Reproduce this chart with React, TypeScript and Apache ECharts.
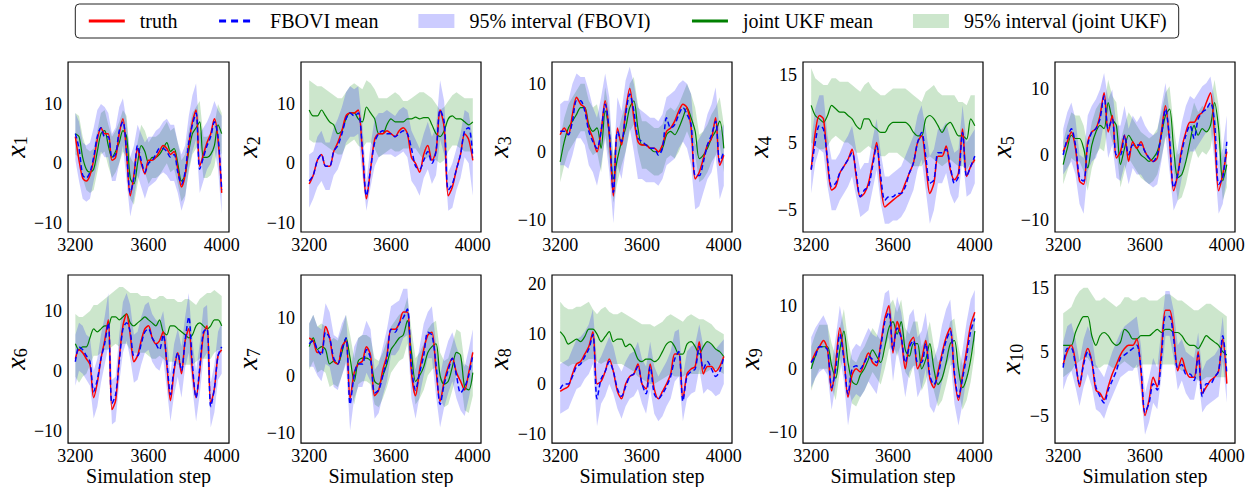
import React, { useEffect, useRef } from "react";
import * as echarts from "echarts";

const STEP: number[] = Array.from({ length: 41 }, (_, i) => 3200 + 20 * i);

// ---------- x1 ----------
const T1 = [4.5, 0.5, -2.5, -3, -2, 0.5, 4, 6, 5, 5, 0.5, 1, 5, 7.5, 1.5, -5.5, -2, 2.5, 0, -1.8, 0.5, 0.5, 1, 2, 3, 2.5, 1.5, 2, -1, -4, -2, 3, 7, 9, -0.5, 1.5, 3.5, 5, 7.5, 4, -5];
const F1 = [5, 2.5, -2, -2.5, -1.5, 1, 4.5, 6, 4.5, 4.5, 1, 1.5, 5.5, 7, 2, -5, -2.5, 3, 0.5, -1.5, 0, 0.5, 1.5, 2.5, 2.5, 2, 1, 1.5, -1.5, -3.5, -1.5, 3.5, 6.5, 8.5, -1, 1, 3, 4.5, 7, 4.5, -4.5];
const F1_LO = [0.5, -3, -6, -6.5, -6, -3, 0, 2, 1, 1, -3, -3, 0, 3, -3, -9, -6, -2, -4, -6, -4, -3.5, -3, -2, -1.5, -2, -3, -3, -5, -8, -6, -1, 2, 4, -5, -3, -1, 0, 2.5, -1, -8.5];
const F1_HI = [8.5, 7, 3.5, 3, 3.5, 6, 9, 10, 9.5, 8.5, 5, 6, 9.5, 11, 7, 1, 3, 6.5, 5, 3.5, 4.5, 4.5, 5.5, 6, 7, 7.5, 6.5, 6.5, 3.5, 1.5, 3, 8, 11.5, 13.5, 5, 6, 7, 8.5, 10.5, 9, 8];
const U1 = [5, 4.5, 1, -1, -1.5, -1, 2, 5, 5.5, 3, 1, 2, 3.5, 5.5, 4.5, -2.5, -3.5, 0, 3, 2, 0, 1, 1, 1.5, 2.5, 3.5, 2, 2.5, 0, -3, -2, 2, 5, 6, 7, 1, 1, 1.5, 3, 6.5, 5];
const U1_LO = [1.5, 1, -2.5, -4.5, -5, -4.5, -1.5, 1.5, 2, -0.5, -2.5, -1.5, 0, 2, 1, -6, -7, -3.5, -0.5, -1.5, -3.5, -2.5, -2.5, -2, -1, 0, -1.5, -1, -3.5, -6.5, -5.5, -1.5, 1.5, 2.5, 3.5, -2.5, -2.5, -2, -0.5, 3, 1.5];
const U1_HI = [8.5, 8, 4.5, 2.5, 2, 2.5, 5.5, 8.5, 9, 6.5, 4.5, 5.5, 7, 9, 8, 1, 0, 3.5, 6.5, 5.5, 3.5, 4.5, 4.5, 5, 6, 7, 5.5, 6, 3.5, 0.5, 1.5, 5.5, 8.5, 9.5, 10.5, 4.5, 4.5, 5, 6.5, 10, 8.5];

// ---------- x2 ----------
const T2 = [-3.5, -2, 0.5, 1.5, -0.5, -0.5, 2, 3.5, 5.5, 8, 8.5, 8.5, 9, 2, -6, -1, 4, 5, 5, 5.5, 5, 4.5, 5.5, 6, 5, 1, 0, -1.5, 1.5, 3, 0.5, 2, 9, 6, -5.5, -4, -1, 1.5, 5, 4, 0.5];
const F2 = [-3, -2, 0.5, 1.5, -0.5, -0.5, 2, 3, 5, 7.5, 8.5, 8, 8.5, 2.5, -5.5, -1, 3.5, 5, 5.5, 5, 5, 4.5, 5, 5.5, 5, 2.5, -0.5, -1, 0.5, 2, 0, 2, 9, 7, -4.5, -3.5, -1, 1.5, 5.5, 6, 1];
const F2_LO = [-7.5, -6, -4, -3, -4.5, -4.5, -2, -1, 1, 3.5, 4.5, 4.5, 5, -2, -8, -4, -0.5, 1, 1.5, 1.5, 1.5, 1, 1.5, 2, 1, -3, -4, -5.5, -2.5, -1, -3.5, -2, 4, 1.5, -8, -7.5, -4.5, -2.5, 1, 0, -5.5];
const F2_HI = [1.5, 2, 4.5, 5.5, 3.5, 3.5, 6, 7.5, 9.5, 12, 13, 12.5, 13, 6.5, -3, 3, 7.5, 8.5, 8.5, 9, 8.5, 8, 9, 9.5, 9, 5.5, 4, 2.5, 5, 7, 4.5, 6, 14, 10.5, -1.5, 0, 2.5, 5, 9, 8.5, 4];
const U2 = [9, 8, 8, 9, 8, 7, 6.5, 5, 5.5, 7.5, 8.5, 8.5, 7.5, 7, 9.5, 8.5, 7.5, 5, 5, 6.5, 7.5, 7, 7, 7, 7.5, 7.5, 7.8, 7.5, 7.7, 7.7, 6.5, 5, 4.5, 5.5, 7.5, 8, 7.5, 7.5, 7, 6.5, 7];
const U2_LO = [4, 3.5, 3.5, 3.5, 3, 2.5, 2, 1.5, 1.5, 3, 3.5, 4, 3, 2.5, 3.5, 3.5, 2.5, 1, 1.5, 2, 2.5, 2, 2, 2.5, 2.5, 2.5, 2.5, 1.5, 0.5, 1, 1, 0.5, 0, 0.5, 2, 3, 3, 2.5, 2, 2, 2];
const U2_HI = [14, 13.5, 13, 13, 12.5, 12, 11.5, 11, 11, 12, 13, 13.5, 13, 12.5, 14, 13.5, 12.5, 11, 11, 11, 11.5, 12, 11.5, 10.5, 10.5, 11, 11.5, 12, 12, 11.5, 11, 10, 9, 9.5, 10.5, 11.5, 12, 11.5, 11, 11, 11];

// ---------- x3 ----------
const T3 = [2.5, 3.5, 2.5, 5.5, 8, 7, 6.5, 3.5, 2, 0, 3, 7.5, 2.5, -6.5, 3.5, 1, 6, 9.3, 5, 1.5, 1, 1, 0.5, 0.5, 0, 1, 3, 3.5, 4.5, 6, 7, 6.5, 3.5, -4, -3, -1, 1, 2, 5, -2, -0.5];
const F3 = [3, 3, 2.5, 4.5, 7.5, 7.5, 6, 3, 1.5, 0.5, 3, 7, 3, -6, 3, 1.5, 5.5, 8.5, 6, 2, 1.5, 1, 0.5, 0.5, -0.5, 0.5, 5, 3.5, 4, 5.5, 6.5, 5.5, 4, -3.5, -3.5, -1.5, 1, 2.5, 4.5, -1.5, 0];
const F3_LO = [-2, -2, -2.5, -0.5, 2, 2, 1, -2, -3, -5, -2, 2, -3, -10.5, -2, -4, 0, 3.5, 0, -4, -4, -4.5, -4.5, -4.5, -5, -4, -2, -1.5, -1, 0.5, 1.5, 0.5, -2, -8.5, -8, -6, -4, -3, -0.5, -7, -5];
const F3_HI = [7, 7.5, 7.5, 10, 11.5, 11, 11, 9, 6.5, 5, 8, 11.5, 8, -2, 8, 6, 10.5, 12.5, 10, 6.5, 6, 5.5, 5, 5, 4.5, 5.5, 8, 8.5, 9, 10, 10.5, 10, 8.5, 1, 2, 3, 5.5, 7, 9.5, 3, 4];
const U3 = [-1.5, 1.5, 3.5, 4.5, 5.5, 6.5, 6.5, 4, 3, 3.5, 0.5, 6, 2.5, -4, -1, 1.5, 3.5, 6.5, 7.5, 3.5, 1, 1, 0.5, 0, 0, 0.5, 2.5, 3, 2.5, 3.5, 5, 6.5, 5, 3, -1, -0.5, 0.5, 2, 3, 4.5, 0.5];
const U3_LO = [-4.5, -2, 0, 1, 2, 3, 3, 0.5, -0.5, 0, -3, 2.5, -1, -7.5, -4.5, -2, 0, 3, 4, 0, -2.5, -2.5, -3, -3.5, -3.5, -3, -1, -0.5, -1, 0, 1.5, 3, 1.5, -0.5, -4.5, -4, -3, -1.5, -0.5, 1, -3];
const U3_HI = [2, 5, 7, 8, 9, 10, 10, 7.5, 6.5, 7, 4, 9.5, 6, -0.5, 2.5, 5, 7, 10, 11, 7, 4.5, 4.5, 4, 3.5, 3.5, 4, 6, 6.5, 6, 7, 8.5, 10, 8.5, 6.5, 2.5, 3, 4, 5.5, 6.5, 8, 4];

// ---------- x4 ----------
const T4 = [1, 6.5, 9, 8.5, 2, -2, -1.5, 0.5, 1.5, 2.5, 4, 0, -3, -2.5, -1, 2, 5, -1, -4.5, -4, -3.5, -3, -2.5, -1, 0.5, 2, 5, 6, 2, -2.5, -1, 3, 3, 4.5, 1, -0.5, 0.5, 7, 0, 1.5, 2.5];
const F4 = [1, 5, 7.5, 7, 2.5, -1.5, -1, 0.5, 1.5, 2.5, 3.5, 0.5, -3, -2, -1.5, 1.5, 4.5, 0, -3.5, -3, -3, -2.5, -2.5, -1.5, 0.5, 2, 5, 6.5, 3, -1, -0.5, 3.5, 3.5, 4, 1.5, -1, 0, 6.5, 0, 1.5, 3];
const F4_LO = [-2.5, 2, 4, 3.5, -1.5, -5, -5, -3.5, -2.5, -1.5, 0, -3, -6, -5.5, -5, -2, 1, -4, -7, -7, -6.5, -6.5, -6, -5, -3.5, -2, 1, 2.5, -2, -7, -5, -1, -1, 0.5, -2.5, -4, -3, 3, -3, -2.5, -1];
const F4_HI = [5, 10, 12, 12, 6, 2.5, 2.5, 3.5, 5, 6, 7.5, 4, 1, 2, 2, 5.5, 8.5, 3.5, 0, 0, 0.5, 1, 1.5, 3, 4.5, 6, 9, 10.5, 7, 3, 4, 7, 7, 8, 5.5, 3.5, 4, 10.5, 5, 6, 7];
const U4 = [10.5, 9, 8.5, 8, 9, 10.5, 10, 9.5, 9.5, 9, 8.5, 7.5, 7, 8.5, 8.5, 7.5, 7, 6.5, 6.5, 7.5, 8, 8, 8, 8, 7.5, 6.5, 6, 6, 8.5, 9, 8.5, 7.5, 6.5, 7.5, 8, 7, 6, 6, 5.5, 8.5, 7.5];
const U4_LO = [5, 4.5, 4, 4, 4.5, 5.5, 6, 5.5, 5, 5, 4.5, 3.5, 3.5, 4, 4.5, 4, 3.5, 3, 3, 3.5, 3.5, 3.5, 3, 2.5, 2, 1.5, 1.5, 1.5, 2.5, 3, 2.5, 2, 1.5, 2, 2.5, 2, 1.5, 1.5, 1, 2, 2];
const U4_HI = [16, 14.5, 14, 13.5, 13.5, 14.5, 14.5, 14, 14, 14, 13.5, 13, 12.5, 13.5, 14, 13, 12.5, 12, 12, 12.5, 13, 13, 13, 13, 12.5, 12, 11.5, 11, 12.5, 13, 13.5, 12.5, 12, 12, 12, 12, 11, 11, 10.5, 12, 12];

// ---------- x5 ----------
const T5 = [0.5, 2, 3.5, 1, -4, -4.5, 2, 3.5, 4, 6, 9.5, 3.5, 6, -0.5, 0.5, 3, -1, 2, 1, 2, 0.5, -0.5, -1, -0.5, 3.5, 7.5, 2, -5.5, -3, 1, 3.5, 5, 5, 6, 6.5, 8, 9.5, 3, -5.5, -3, 0.5];
const F5 = [0, 2.5, 4, 1.5, -3.5, -4, 1.5, 3.5, 4, 5.5, 9, 4, 5.5, 0, 0, 3, 0, 1.5, 1.5, 1.5, 0.5, -0.5, -1, 0, 3, 7, 2.5, -5, -3, 0.5, 3, 4.5, 2.5, 5.5, 6.5, 7, 8, 5, -4.5, -3.5, 2];
const F5_LO = [-3, -2, -1, -3, -7.5, -9, -2.5, -1, -0.5, 1.5, 5, -0.5, 1.5, -3.5, -4, -1.5, -4.5, -2, -3, -3, -4, -4.5, -5, -4.5, -1, 3, -2.5, -8.5, -7, -3.5, -1, 0.5, 0.5, 1.5, 2.5, 3.5, 4.5, -1, -9, -7.5, -3.5];
const F5_HI = [4, 6.5, 8, 5.5, 0, -0.5, 6, 7.5, 8.5, 10, 12.5, 8.5, 10, 4.5, 4.5, 7.5, 4, 6, 5, 6, 4.5, 3.5, 3, 3.5, 7.5, 11, 6.5, -1.5, 1, 5, 7.5, 9, 8.5, 9.5, 10.5, 11, 12, 8.5, -1, 1, 6];
const U5 = [-1.5, 1, 3, 2.5, 2.5, 1, -2, 1.5, 3.5, 4.5, 4, 8, 5.5, 4.5, -1.5, 1, 3, 2, 1, 0, -0.5, -1, -0.5, 0.5, 3, 6, 7, 1, -3.5, -3, -1, 2, 4.5, 3, 4, 3.5, 4.5, 8, 4, -4, -1.5];
const U5_LO = [-4.5, -2.5, -0.5, -1, -1, -2.5, -5.5, -2, 0, 1, 0.5, 4.5, 2, 1, -5, -2.5, -0.5, -1.5, -2.5, -3.5, -4, -4.5, -4, -3, -0.5, 2.5, 3.5, -2.5, -7, -6.5, -4.5, -1.5, 1, -0.5, 0.5, 0, 1, 4.5, 0.5, -7, -5];
const U5_HI = [2, 4.5, 6.5, 6, 6, 4.5, 1.5, 5, 7, 8, 7.5, 11.5, 9, 8, 2, 4.5, 6.5, 5.5, 4.5, 3.5, 3, 2.5, 3, 4, 6.5, 9.5, 10.5, 4.5, 0, 0.5, 2.5, 5.5, 8, 6.5, 7.5, 7, 8, 11.5, 7.5, -0.5, 2];

// ---------- x6 ----------
const T6 = [2, 3.5, 3, 2, 1, -4.5, -2, 2, 5, 8.5, -6.5, -5, 2, 7.5, 9.5, 6, 1.5, 2.5, 5, 7, 7.5, 5.5, 4.5, 5, 6.5, 1, -5, 0, 3, -0.5, 5, 7, 0, -4.5, 0, 6, 7.5, -5.5, -3, 2.5, 3.5];
const F6 = [1.5, 4, 3.5, 2.5, 1.5, -3.5, -1.5, 2, 4.5, 8, -5.5, -4, 1.5, 7, 8, 6.5, 2.5, 2.5, 4.5, 6.5, 7, 5.5, 4.5, 3.5, 6, 1.5, -4, 0.5, 3, 0, 5, 9, 1, -4.5, 0.5, 6.5, 7, -6, -3, 2.5, 4];
const F6_LO = [-2.5, 0, -0.5, -1.5, -2.5, -8, -6, -2, 1, 4, -9, -8.5, -2, 3, 5, 2, -2, -1.5, 1, 3, 3.5, 1.5, 0.5, 0, 2, -3, -8.5, -4, -1, -4.5, 0.5, 3, -3, -8.5, -4, 2, 3, -9.5, -7, -1.5, -0.5];
const F6_HI = [6, 8, 7.5, 6, 5.5, 0, 2, 6, 9, 13, -1.5, -1, 6, 11.5, 13, 11, 6, 6.5, 9, 11, 11.5, 9.5, 8.5, 8, 10, 5.5, -0.5, 4.5, 7, 4, 9, 13, 5, 0, 4.5, 10.5, 11, -2, 1, 6.5, 8];
const U6 = [4.5, 3.5, 4, 4, 5.5, 7, 6.5, 7, 7.5, 7.5, 9, 9, 8.5, 9, 9.5, 8, 7.5, 8, 8.5, 9, 8.5, 8, 7.5, 8.5, 6.5, 6, 7.5, 7.5, 7, 6.5, 6, 5.5, 6, 7.5, 8, 7.5, 7, 7.5, 8.5, 8.5, 7.5];
const U6_LO = [-1, -2, -1, -0.5, 1, 2.5, 2.5, 3, 3.5, 3.5, 4, 4.5, 4, 4.5, 4.5, 3.5, 3, 3, 3, 3, 2.5, 2, 2, 2.5, 2, 1.5, 1.5, 1.5, 1, 1, 1, 1, 1, 1.5, 2, 2, 2, 2, 3, 3.5, 3];
const U6_HI = [9.5, 9, 9, 9.5, 10, 11, 11, 11.5, 12, 12.5, 13, 13.5, 14, 14, 13.5, 13, 13, 13, 12.5, 12.5, 12.5, 12, 12, 12.5, 12.5, 12, 12, 12, 11.5, 11.5, 12, 12, 11.5, 11, 12, 12.5, 13, 13, 13.5, 13, 12.5];

// ---------- x7 ----------
const T7 = [6.5, 6, 4, 4, 8.5, 6.5, 2.5, 2, 5, 6, -4, 0.5, 2, 2.5, 5, 3.5, -3.5, -2.5, 1, 3.5, 8, 8, 9, 11, 11, 0.5, -3.5, 1, 4.5, 7, 7.5, 1, -4.5, -1, 1.5, 3, 0.5, -1, -2.5, 0.5, 4];
const F7 = [5.5, 6, 4.5, 3.5, 7.5, 6.5, 3, 2, 4.5, 6.5, -5, 0, 2, 2, 4.5, 3, -3, -2.5, 0, 3, 8, 7.5, 9, 10, 11.5, 1.5, -2.5, 0.5, 3.5, 7.5, 7, 2, -5, -1.5, 1, 3, 0, -3, -2, 0, 3.5];
const F7_LO = [1.5, 1.5, 0, -1, 2, 1.5, -2, -2.5, 0, 2, -9.5, -4, -2, -2, 0.5, -1, -7.5, -6.5, -3.5, -1, 3.5, 3.5, 4.5, 6.5, 7, -4, -7.5, -3.5, 0, 3, 3, -3.5, -9, -5.5, -3, -1, -4, -6, -7, -4, -0.5];
const F7_HI = [9, 10.5, 8.5, 8, 12.5, 11, 7, 6.5, 9, 10.5, 0, 5, 6.5, 7, 9.5, 8, 1, 2, 5, 8, 12, 12.5, 13, 15, 15, 5, 1, 5, 9, 11, 12, 5.5, 0, 3.5, 6, 7.5, 5, 3, 1.5, 4.5, 8];
const U7 = [5, 6.5, 4.5, 5, 4.5, 2, 2.5, 2, 4, 6.5, 3, -1, 2.5, 3, 3, 2.5, -1, -1.5, 0, 2, 4.5, 5.5, 6.5, 7, 9.5, 4, -1, 0, 1.5, 4, 5, 5.5, 0, -1.5, -1, 1.5, 4, 3.5, -2, -2.5, 0.5];
const U7_LO = [1, 2.5, 0.5, 1, 0.5, -2, -1.5, -2, 0, 2.5, -1, -5, -1.5, -1, -1, -1.5, -5, -5.5, -4, -2, 0.5, 1.5, 2.5, 3, 5.5, 0, -5, -4, -2.5, 0, 1, 1.5, -4, -5.5, -5, -2.5, 0, -0.5, -6, -6.5, -3.5];
const U7_HI = [9, 10.5, 8.5, 9, 8.5, 6, 6.5, 6, 8, 10.5, 7, 3, 6.5, 7, 7, 6.5, 3, 2.5, 4, 6, 8.5, 9.5, 10.5, 11, 13.5, 8, 3, 4, 5.5, 8, 9, 9.5, 4, 2.5, 3, 5.5, 8, 7.5, 2, 1.5, 4.5];

// ---------- x8 ----------
const T8 = [-1.5, -1, -0.5, 2, 4, 4.5, 6, 7.5, 10.5, 0, 0.5, 2.5, 5, 2.5, -1.5, -3, 0, 1.5, 2, 4, 0, -1, 4, -1, -3, -1.5, 0, 2, 6, 6, -3, 2, 3, 3.5, 8.5, 2, 3.5, 3.5, 2.5, 3.5, 5.5];
const F8 = [-1, 0, 0, 1.5, 3.5, 4, 5.5, 7, 10, -3, 1, 2.5, 4.5, 2.5, -1, -2.5, -0.5, 1.5, 2, 3.5, 0, -2, 3.5, -2, -3, -2, -0.5, 1.5, 5, 6.5, -3.5, 1.5, 2.5, 3, 7.5, 3, 4.5, 3, 1.5, 2.5, 5.5];
const F8_LO = [-6, -5.5, -5, -3, -1, -0.5, 1, 2, 4, -8.5, -4, -2.5, 0, -2, -5, -7, -4.5, -3, -2.5, -1, -4, -6, -1, -6, -7.5, -6.5, -4.5, -3, 0.5, 1.5, -7.5, -3, -2, -1.5, 3, -2, -1, -1.5, -2.5, -2, 0];
const F8_HI = [4, 4.5, 5, 7, 9, 9.5, 10.5, 12, 15, 4, 5.5, 7.5, 9.5, 7.5, 4, 2.5, 4.5, 6, 6.5, 8.5, 5, 3.5, 8.5, 3.5, 1.5, 3, 4.5, 6.5, 10.5, 11, 1.5, 6.5, 7.5, 8, 12, 7.5, 8.5, 8, 7, 8, 9];
const U8 = [10.5, 9.5, 8, 8.5, 9, 8.5, 9.5, 11, 11, 10, 8.5, 9.5, 10.5, 8.5, 9, 9, 7.5, 8, 7, 5, 4.5, 5, 5, 4.5, 5, 6.5, 8, 8.5, 7.5, 6, 6, 8, 8.5, 7.5, 6, 7.5, 8.5, 8, 7, 6.5, 5.5];
const U8_LO = [4.5, 4, 3.5, 4, 4, 4, 4.5, 5, 5, 4.5, 4, 4.5, 4.5, 4, 4, 4, 3.5, 3, 2.5, 1.5, 1, 0.5, 0, 0, 0.5, 1, 1.5, 2, 1.5, 1.5, 1.5, 2, 2, 2, 2, 2, 2.5, 3, 3, 2.5, 2];
const U8_HI = [16.5, 15.5, 15, 15, 15.5, 15.5, 16, 16.5, 15, 14, 15, 15.5, 14.5, 14, 14, 14.5, 14, 13.5, 13, 12.5, 12, 12, 12, 11.5, 12, 12.5, 13.5, 14, 13.5, 13, 12.5, 13.5, 14, 13.5, 13, 13, 12.5, 12, 11, 10.5, 10];

// ---------- x9 ----------
const T9 = [1, 2.5, 3.5, 4.5, 3, -3.5, 1, 6.5, 2, -4.5, -1, 0, -0.5, 1, 2.5, 1, 0.5, 4, 8, 10, 2.5, 7.5, 5, 0, 4, 5, 0, 1.5, 4.5, -1.5, -3, -0.5, 2.5, 5, 6.5, -1, -5, -1, 3, 7, 9];
const F9 = [1, 2, 3.5, 3.5, 3, -3, 0, 5.5, 1.5, -4, 0, 0.5, 0, 1, 2, 1.5, 1, 3.5, 7.5, 9, 3, 6.5, 5, 1, 3.5, 4.5, 1, 1, 4, -1, -2.5, -1, 2, 4.5, 6, -0.5, -4.5, -1.5, 2, 6, 8];
const F9_LO = [-3, -1.5, -0.5, 0, -1, -6.5, -2.5, 2, -2, -9, -5, -4, -4.5, -3.5, -2, -3, -4, -0.5, 3.5, 5, -2, 3, 0, -4.5, -0.5, 0.5, -4.5, -3, 0, -6, -7, -5, -2, 0.5, 2, -5.5, -9, -5.5, -1.5, 2.5, 4.5];
const F9_HI = [5, 6.5, 7.5, 8.5, 7, 0.5, 5, 10, 6.5, -0.5, 3, 4, 3.5, 5, 6.5, 5.5, 5, 8, 12, 12.5, 7, 11.5, 9, 4.5, 8.5, 9.5, 5, 6, 9, 3, 1.5, 3.5, 7, 9.5, 11, 3.5, -1, 3, 7.5, 11, 12.5];
const U9 = [0, 2, 3.5, 3.5, 3.5, 0.5, -1.5, 3, 6, 1, -2, -2.5, -1, 0, 1.5, 3, 2, 1, 3.5, 6.5, 7.5, 5.5, 7.5, 3, 2, 4, 4, 0, 1.5, 4, 0, -2.5, -1.5, 1, 4, 4.5, 0, -3, -1.5, 1.5, 6];
const U9_LO = [-3.5, -1.5, 0, 0, 0, -3, -5, -0.5, 2.5, -2.5, -5.5, -6, -4.5, -3.5, -2, -0.5, -1.5, -2.5, 0, 3, 4, 2, 4, -0.5, -1.5, 0.5, 0.5, -3.5, -2, 0.5, -3.5, -6, -5, -2.5, 0.5, 1, -3.5, -6.5, -5, -2, 2.5];
const U9_HI = [3.5, 5.5, 7, 7, 7, 4, 2, 6.5, 9.5, 4.5, 1.5, 1, 2.5, 3.5, 5, 6.5, 5.5, 4.5, 7, 10, 11, 9, 11, 6.5, 5.5, 7.5, 7.5, 3.5, 5, 7.5, 3.5, 1, 2, 4.5, 7.5, 8, 3.5, 0.5, 2, 5, 9.5];

// ---------- x10 ----------
const T10 = [3, 5, 6, 3.5, -0.5, 3.5, 5.5, 3.5, -1, -1.5, -2.5, -0.5, 1.5, 3, 4.5, 5.5, 6, 6, 7, 2, -5, -2.5, 1, -0.5, 5, 11.5, 11.5, 8, 2, 4, 2, 1, 1, 5, -1.5, -0.5, 0.5, 1, 2, 7, 0];
const F10 = [2.5, 5.5, 5.5, 3, 0, 3, 5, 3.5, -0.5, -2, -3, -1, 0.5, 2, 4, 4.5, 5, 5.5, 6, 2.5, -4.5, -3, 0, -1, 4, 10.5, 10.5, 7, 2.5, 3, 1.5, 1.5, 0.5, 4.5, -2, 0, 0, 1, 2, 7.5, 1.5];
const F10_LO = [-1, 1, 2, -0.5, -3.5, -0.5, 1.5, -0.5, -4, -4.5, -5.5, -3.5, -2, -0.5, 1, 1.5, 2, 2, 3, -1.5, -8, -6, -3, -4, 1, 7.5, 7.5, 4, -1, 0.5, -1.5, -2.5, -2.5, 1, -4.5, -3.5, -3, -2.5, -2, 3.5, -3];
const F10_HI = [6.5, 9, 9.5, 7, 3.5, 7, 9, 7.5, 3, 2, 1, 3, 5, 6.5, 8, 9, 9.5, 10, 10.5, 6, -1.5, 1, 4, 2.5, 8.5, 14.5, 14.5, 11.5, 6, 7, 5, 4.5, 4, 8, 2, 3.5, 4, 4.5, 5.5, 10.5, 3];
const U10 = [6, 6, 6, 8, 9.5, 10.5, 10.5, 7.5, 6, 7.5, 8, 7.5, 6.5, 6, 6.5, 8.5, 8, 7, 7, 7.5, 7.5, 7.5, 8, 8.5, 8, 8.5, 8.5, 8, 8, 7.5, 6.5, 6, 6, 5.5, 6.5, 7.5, 7, 6.5, 6, 5, 4.5];
const U10_LO = [1, 1.5, 2, 3, 3.5, 4, 4, 3, 2.5, 2.5, 3, 3, 2.5, 2.5, 3, 3.5, 3, 2.5, 2.5, 3, 3, 3, 3, 3, 3, 3, 3, 3, 2.5, 2, 2, 1.5, 1, 0.5, 0.5, 1, 1, 1, 1, 1, 1];
const U10_HI = [11, 11.5, 12, 13.5, 14.5, 15, 15, 14, 13, 13, 13.5, 13, 12.5, 12, 12.5, 13.5, 13.5, 13, 13, 13.5, 13.5, 13, 13, 13, 13.5, 14, 14, 13.5, 13, 13, 12.5, 12, 11.5, 11.5, 12, 12.5, 12.5, 12, 11.5, 11, 10.5];

const TRUTH = [T1, T2, T3, T4, T5, T6, T7, T8, T9, T10];
const FMEAN = [F1, F2, F3, F4, F5, F6, F7, F8, F9, F10];
const FLO = [F1_LO, F2_LO, F3_LO, F4_LO, F5_LO, F6_LO, F7_LO, F8_LO, F9_LO, F10_LO];
const FHI = [F1_HI, F2_HI, F3_HI, F4_HI, F5_HI, F6_HI, F7_HI, F8_HI, F9_HI, F10_HI];
const UMEAN = [U1, U2, U3, U4, U5, U6, U7, U8, U9, U10];
const ULO = [U1_LO, U2_LO, U3_LO, U4_LO, U5_LO, U6_LO, U7_LO, U8_LO, U9_LO, U10_LO];
const UHI = [U1_HI, U2_HI, U3_HI, U4_HI, U5_HI, U6_HI, U7_HI, U8_HI, U9_HI, U10_HI];

const Y_MIN = [-11.6, -11.6, -11.8, -8.2, -11.8, -12.1, -11.7, -11.9, -11.8, -9.3];
const Y_MAX = [17.1, 17.1, 13.2, 16.9, 14.2, 16.0, 17.4, 21.9, 14.9, 17.0];
const Y_TICKS = [
  [-10, 0, 10], [-10, 0, 10], [-10, 0, 10], [-5, 5, 15], [-10, 0, 10],
  [-10, 0, 10], [-10, 0, 10], [-10, 0, 10, 20], [-10, 0, 10], [-5, 5, 15],
];
const X_TICKS = [3200, 3600, 4000];

const NAME_TRUTH = "truth";
const NAME_FMEAN = "FBOVI mean";
const NAME_FBAND = "95% interval (FBOVI)";
const NAME_UMEAN = "joint UKF mean";
const NAME_UBAND = "95% interval (joint UKF)";

const FONT = "serif";
const LEFTS = [49, 301, 552, 803, 1055];
const TOPS = [62, 275];
const PW = 180;
const PH = 170;

const fmt = (v: number) => (v < 0 ? "\u2212" + Math.abs(v) : String(v));

function bandSeries(name: string, k: number, lo: number[], hi: number[], color: string, z: number) {
  return {
    type: "custom",
    name,
    xAxisIndex: k,
    yAxisIndex: k,
    silent: true,
    z,
    itemStyle: { color },
    data: [[STEP[0], lo[0]]],
    renderItem: (_p: any, api: any) => {
      const pts: number[][] = [];
      for (let i = 0; i < STEP.length; i++) pts.push(api.coord([STEP[i], hi[i]]));
      for (let i = STEP.length - 1; i >= 0; i--) pts.push(api.coord([STEP[i], lo[i]]));
      return { type: "polygon", shape: { points: pts }, style: { fill: color } };
    },
  };
}

function lineSeries(name: string, k: number, vals: number[], color: string, width: number, type: any, z: number) {
  return {
    type: "line",
    name,
    xAxisIndex: k,
    yAxisIndex: k,
    silent: true,
    symbol: "none",
    showSymbol: false,
    smooth: 0.3,
    z,
    data: STEP.map((s, i) => [s, vals[i]]),
    lineStyle: { color, width, type },
    itemStyle: { color },
  };
}

function buildOption() {
  const grid: any[] = [];
  const xAxis: any[] = [];
  const yAxis: any[] = [];
  const series: any[] = [];
  for (let k = 0; k < 10; k++) {
    const row = k < 5 ? 0 : 1;
    const col = k % 5;
    grid.push({
      left: LEFTS[col],
      top: TOPS[row],
      width: PW,
      height: PH,
      show: true,
      borderColor: "#000",
      borderWidth: 1.2,
    });
    xAxis.push({
      type: "value",
      gridIndex: k,
      min: 3160,
      max: 4040,
      axisLine: { show: false },
      axisTick: { show: false },
      splitLine: { show: false },
      axisLabel: {
        customValues: X_TICKS,
        formatter: fmt,
        fontFamily: FONT,
        fontSize: 18,
        color: "#000",
        margin: 4,
      },
      name: row === 1 ? "Simulation step" : "",
      nameLocation: "middle",
      nameGap: 21,
      nameTextStyle: { fontFamily: FONT, fontSize: 20, color: "#000", verticalAlign: "top" },
    });
    yAxis.push({
      type: "value",
      gridIndex: k,
      min: Y_MIN[k],
      max: Y_MAX[k],
      axisLine: { show: false },
      axisTick: { show: false },
      splitLine: { show: false },
      axisLabel: {
        customValues: Y_TICKS[k],
        formatter: fmt,
        fontFamily: FONT,
        fontSize: 18,
        color: "#000",
        margin: 6,
      },
      name: `{i|x}{s|${k + 1}}`,
      nameLocation: "middle",
      nameRotate: 90,
      nameGap: 24,
      nameTextStyle: {
        fontFamily: FONT,
        rich: {
          i: { fontFamily: FONT, fontStyle: "italic", fontSize: 28, color: "#000" },
          s: { fontFamily: FONT, fontSize: 18, color: "#000", padding: [12, 0, 0, 0] },
        },
      },
    });
    series.push(bandSeries(NAME_UBAND, k, ULO[k], UHI[k], "rgba(0,128,0,0.2)", 1));
    series.push(bandSeries(NAME_FBAND, k, FLO[k], FHI[k], "rgba(0,0,255,0.2)", 2));
    series.push(lineSeries(NAME_UMEAN, k, UMEAN[k], "#008000", 1.2, "solid", 3));
    series.push(lineSeries(NAME_TRUTH, k, TRUTH[k], "#ff0000", 1.5, "solid", 4));
    series.push(lineSeries(NAME_FMEAN, k, FMEAN[k], "#0000ff", 1.5, [5, 3], 5));
  }
  const hideSym = { opacity: 0 };
  return {
    animation: false,
    backgroundColor: "#fff",
    textStyle: { fontFamily: FONT },
    legend: {
      show: true,
      top: 4,
      left: "center",
      orient: "horizontal",
      borderColor: "#222",
      borderWidth: 1,
      borderRadius: 4,
      padding: [7, 12, 7, 12],
      itemWidth: 36,
      itemHeight: 14,
      itemGap: 40,
      selectedMode: false,
      textStyle: { fontFamily: FONT, fontSize: 20, color: "#000", padding: [0, 0, 0, 10] },
      data: [
        { name: NAME_TRUTH, lineStyle: { width: 3 }, itemStyle: hideSym },
        { name: NAME_FMEAN, lineStyle: { width: 3, type: [7, 5] }, itemStyle: hideSym },
        { name: NAME_FBAND, icon: "rect" },
        { name: NAME_UMEAN, lineStyle: { width: 3 }, itemStyle: hideSym },
        { name: NAME_UBAND, icon: "rect" },
      ],
    },
    grid,
    xAxis,
    yAxis,
    series,
  };
}

export default function App() {
  const ref = useRef<HTMLDivElement>(null);
  useEffect(() => {
    if (!ref.current) return;
    const chart = echarts.init(ref.current, undefined, { renderer: "svg" });
    chart.setOption(buildOption() as any);
    return () => chart.dispose();
  }, []);
  return (
    <div
      ref={ref}
      style={{ position: "fixed", left: 0, top: 0, width: 1254, height: 487, background: "#fff", fontFamily: "serif" }}
    />
  );
}
